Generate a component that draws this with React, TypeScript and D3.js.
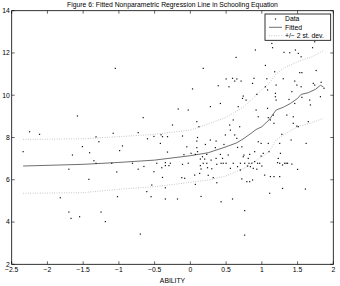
import { useEffect, useRef } from 'react'
import * as d3 from 'd3'

// scatter of (ability, schooling)
const dataX = [
  -2.34, -2.25, -2.11, -1.65, -1.7, -1.58, -1.51, -1.41, -1.32, -1.28, -1.35, -1.32, -1.42, -1.82, -1.7, -1.67,
  -1.55, -1.25, -1.19, -1.08, -1.05, -0.99, -0.95, -1.1, -1.03, -1.02, -0.81, -0.73, -0.73, -0.66, -0.7, -0.65,
  -0.61, -0.6, -0.55, -0.54, -0.51, -0.51, -0.47, -0.41, -0.42, -0.4, -0.39, -0.39, -0.35, -0.35, -0.35, -0.35,
  -0.32, -0.32, -0.28, -0.25, -0.3, -0.18, -0.17, -0.12, -0.11, -0.09, -0.11, -0.08, -0.05, -0.03, -0.03, 0.01,
  0.03, 0.07, 0.06, 0.07, 0.09, 0.1, 0.09, 0.09, 0.1, 0.12, 0.14, 0.14, 0.15, 0.13, 0.15, 0.17,
  0.18, 0.18, 0.21, 0.2, 0.23, 0.23, 0.24, 0.25, 0.28, 0.28, 0.29, 0.3, 0.32, 0.35, 0.36, 0.36,
  0.37, 0.37, 0.39, 0.42, 0.42, 0.43, 0.43, 0.45, 0.46, 0.47, 0.49, 0.5, 0.5, 0.53, 0.54, 0.55,
  0.56, 0.56, 0.59, 0.59, 0.6, 0.6, 0.62, 0.62, 0.64, 0.65, 0.65, 0.66, 0.66, 0.67, 0.69, 0.7,
  0.7, 0.71, 0.72, 0.72, 0.73, 0.74, 0.74, 0.75, 0.76, 0.76, 0.76, 0.78, 0.79, 0.8, 0.81, 0.82,
  0.83, 0.83, 0.84, 0.86, 0.87, 0.87, 0.88, 0.89, 0.9, 0.9, 0.91, 0.92, 0.93, 0.93, 0.94, 0.95,
  0.95, 0.97, 0.99, 0.99, 1.0, 1.02, 1.04, 1.05, 1.05, 1.07, 1.08, 1.08, 1.09, 1.09, 1.1, 1.11,
  1.12, 1.12, 1.14, 1.15, 1.16, 1.17, 1.17, 1.18, 1.19, 1.19, 1.2, 1.2, 1.22, 1.23, 1.25, 1.25,
  1.25, 1.26, 1.28, 1.29, 1.29, 1.3, 1.31, 1.32, 1.34, 1.35, 1.36, 1.38, 1.39, 1.41, 1.42, 1.42,
  1.44, 1.44, 1.46, 1.46, 1.47, 1.49, 1.49, 1.5, 1.51, 1.51, 1.53, 1.55, 1.55, 1.56, 1.56, 1.61,
  1.62, 1.65, 1.67, 1.68, 1.71, 1.72, 1.74, 1.74, 1.76, 1.82, 1.83, 1.87
]
const dataY = [
  7.33, 8.27, 8.15, 7.17, 6.5, 9.02, 7.57, 7.28, 8.03, 7.8, 6.9, 6.78, 6.02, 5.15, 4.47, 4.17,
  4.25, 4.47, 4.02, 8.2, 11.27, 7.38, 7.6, 6.78, 6.37, 5.2, 6.78, 8.23, 6.5, 8.94, 3.43, 6.63,
  5.44, 7.94, 5.2, 5.75, 8.05, 6.38, 6.78, 8.13, 7.72, 6.57, 6.11, 8.04, 5.62, 5.09, 6.81, 6.67,
  7.31, 8.04, 6.78, 8.59, 6.67, 5.09, 9.35, 6.1, 8.07, 7.19, 6.73, 6.07, 7.56, 9.3, 6.78, 7.25,
  10.3, 7.2, 6.22, 5.78, 8.75, 8.0, 7.83, 7.52, 7.33, 8.51, 6.98, 6.67, 6.51, 6.3, 5.21, 7.09,
  6.78, 11.27, 7.67, 6.98, 7.2, 6.78, 6.57, 6.21, 7.88, 9.46, 6.93, 6.52, 6.1, 7.52, 7.83, 7.01,
  6.73, 5.86, 10.45, 9.61, 7.2, 6.78, 4.96, 7.01, 6.78, 7.67, 8.12, 10.77, 6.78, 7.17, 10.4, 8.59,
  8.35, 6.54, 5.09, 10.8, 8.83, 6.78, 10.67, 8.12, 11.79, 7.96, 10.77, 6.62, 7.53, 9.46, 8.51, 6.78,
  6.46, 10.67, 7.56, 6.04, 9.85, 9.96, 7.09, 7.17, 4.54, 3.38, 6.78, 9.77, 5.91, 6.65, 7.01, 6.78,
  7.2, 5.91, 6.62, 6.78, 5.99, 10.56, 6.54, 10.8, 6.86, 7.33, 12.14, 9.3, 10.04, 6.5, 6.78, 8.98,
  7.8, 6.78, 7.12, 7.72, 6.65, 7.25, 6.22, 10.4, 11.41, 10.78, 10.25, 9.38, 7.72, 8.94, 7.33, 5.36,
  8.83, 6.15, 12.45, 12.25, 9.06, 8.67, 6.15, 11.11, 10.09, 9.93, 9.77, 10.48, 6.81, 7.01, 6.78, 6.15,
  7.72, 7.25, 8.15, 5.59, 6.7, 10.78, 12.03, 6.78, 6.78, 9.06, 6.78, 9.8, 12.01, 7.88, 10.17, 6.74,
  8.98, 8.67, 9.61, 10.67, 12.14, 10.48, 8.54, 6.49, 11.98, 8.51, 11.07, 11.82, 10.4, 11.07, 9.9, 5.56,
  7.72, 8.75, 9.77, 9.54, 12.25, 10.56, 12.53, 10.48, 11.17, 9.93, 10.61, 10.33
]

// nonparametric fit and its +/- 2 st. dev. band
const fitX = [-2.34, -1.5, -1.0, -0.5, 0, 0.25, 0.5, 0.65, 0.75, 0.85, 0.92, 1.0, 1.1, 1.2, 1.3, 1.4, 1.5, 1.55, 1.65, 1.75, 1.82, 1.86]
const fitY = [6.65, 6.73, 6.82, 6.93, 7.14, 7.28, 7.56, 7.75, 7.96, 8.2, 8.38, 8.51, 8.83, 9.3, 9.43, 9.61, 9.85, 10.04, 10.12, 10.28, 10.47, 10.4]
const bandX = [-2.34, -1.5, -1.0, -0.5, 0, 0.25, 0.5, 0.75, 1.0, 1.1, 1.2, 1.3, 1.5, 1.7, 1.86]
const upperY = [7.91, 7.94, 8.04, 8.15, 8.35, 8.64, 8.95, 9.46, 10.25, 10.56, 11.0, 11.27, 11.59, 11.82, 12.11]
const lowerY = [5.36, 5.39, 5.55, 5.67, 5.88, 5.99, 6.18, 6.54, 7.09, 7.33, 7.88, 8.12, 8.51, 8.7, 8.91]

const xTicks = [-2.5, -2, -1.5, -1, -0.5, 0, 0.5, 1, 1.5, 2]
const yTicks = [2, 4, 6, 8, 10, 12, 14]
const legendLabels = ['Data', 'Fitted', '+/\u2212 2 st. dev.']

const W = 340
const H = 286
const font = 'Liberation Sans, Arial, sans-serif'

export default function App() {
  const svgRef = useRef<SVGSVGElement>(null)

  useEffect(() => {
    if (!svgRef.current) return
    const svg = d3.select(svgRef.current)
    svg.selectAll('*').remove()

    const left = 11.7, right = 333.3, top = 10.7, bottom = 264.3
    const x = d3.scaleLinear([-2.5, 2], [left, right])
    const y = d3.scaleLinear([2, 14], [bottom, top])

    // title
    svg.append('text')
      .attr('x', (left + right) / 2).attr('y', 7)
      .attr('text-anchor', 'middle')
      .attr('font-family', font).attr('font-size', 6.8)
      .text('Figure 6: Fitted Nonparametric Regression Line in Schooling Equation')

    // band lines
    const line = d3.line<[number, number]>().x(d => x(d[0])).y(d => y(d[1]))
    for (const ys of [upperY, lowerY]) {
      svg.append('path')
        .attr('d', line(bandX.map((v, i) => [v, ys[i]] as [number, number])))
        .attr('fill', 'none').attr('stroke', '#a8a8a8')
        .attr('stroke-width', 0.8).attr('stroke-dasharray', '0.8,1.6')
    }

    // fitted line
    svg.append('path')
      .attr('d', line(fitX.map((v, i) => [v, fitY[i]] as [number, number])))
      .attr('fill', 'none').attr('stroke', '#4a4a4a').attr('stroke-width', 0.8)

    // data dots
    svg.append('g').selectAll('rect')
      .data(dataX.map((v, i) => [v, dataY[i]]))
      .join('rect')
      .attr('x', d => x(d[0]) - 0.6).attr('y', d => y(d[1]) - 0.6)
      .attr('width', 1.2).attr('height', 1.2).attr('fill', '#111')

    // frame
    svg.append('rect')
      .attr('x', left).attr('y', top)
      .attr('width', right - left).attr('height', bottom - top)
      .attr('fill', 'none').attr('stroke', '#000').attr('stroke-width', 0.8)

    const tl = 3
    const tk = svg.append('g').attr('stroke', '#000').attr('stroke-width', 0.6)
    xTicks.forEach(t => {
      tk.append('line').attr('x1', x(t)).attr('x2', x(t)).attr('y1', bottom).attr('y2', bottom - tl)
      tk.append('line').attr('x1', x(t)).attr('x2', x(t)).attr('y1', top).attr('y2', top + tl)
    })
    yTicks.forEach(t => {
      tk.append('line').attr('x1', left).attr('x2', left + tl).attr('y1', y(t)).attr('y2', y(t))
      tk.append('line').attr('x1', right).attr('x2', right - tl).attr('y1', y(t)).attr('y2', y(t))
    })

    svg.append('g').selectAll('text')
      .data(xTicks).join('text')
      .attr('x', d => x(d)).attr('y', bottom + 8)
      .attr('text-anchor', 'middle')
      .attr('font-family', font).attr('font-size', 6.8)
      .text(d => String(d).replace('-', '\u2212'))

    svg.append('g').selectAll('text')
      .data(yTicks).join('text')
      .attr('x', left - 2).attr('y', d => y(d) + 2.4)
      .attr('text-anchor', 'end')
      .attr('font-family', font).attr('font-size', 6.8)
      .text(d => String(d))

    svg.append('text')
      .attr('x', (left + right) / 2).attr('y', 283)
      .attr('text-anchor', 'middle')
      .attr('font-family', font).attr('font-size', 6.8)
      .text('ABILITY')

    // legend
    const lg = svg.append('g')
    lg.append('rect')
      .attr('x', 265).attr('y', 14).attr('width', 65.7).attr('height', 26.3)
      .attr('fill', '#fff').attr('stroke', '#000').attr('stroke-width', 0.8)
    const rows = [19, 27.3, 35.7]
    lg.append('rect').attr('x', 274.9).attr('y', rows[0] - 0.6).attr('width', 1.2).attr('height', 1.2).attr('fill', '#111')
    lg.append('line').attr('x1', 269).attr('x2', 282).attr('y1', rows[1]).attr('y2', rows[1])
      .attr('stroke', '#4a4a4a').attr('stroke-width', 0.8)
    lg.append('line').attr('x1', 269).attr('x2', 282).attr('y1', rows[2]).attr('y2', rows[2])
      .attr('stroke', '#a8a8a8').attr('stroke-width', 0.8).attr('stroke-dasharray', '0.8,1.6')
    legendLabels.forEach((l, i) => {
      lg.append('text')
        .attr('x', 285).attr('y', rows[i] + 2.4)
        .attr('font-family', font).attr('font-size', 6.8)
        .text(l)
    })
  }, [])

  return (
    <svg
      ref={svgRef}
      width={W}
      height={H}
      style={{ position: 'absolute', left: 0, top: 0, background: '#fff' }}
    />
  )
}
